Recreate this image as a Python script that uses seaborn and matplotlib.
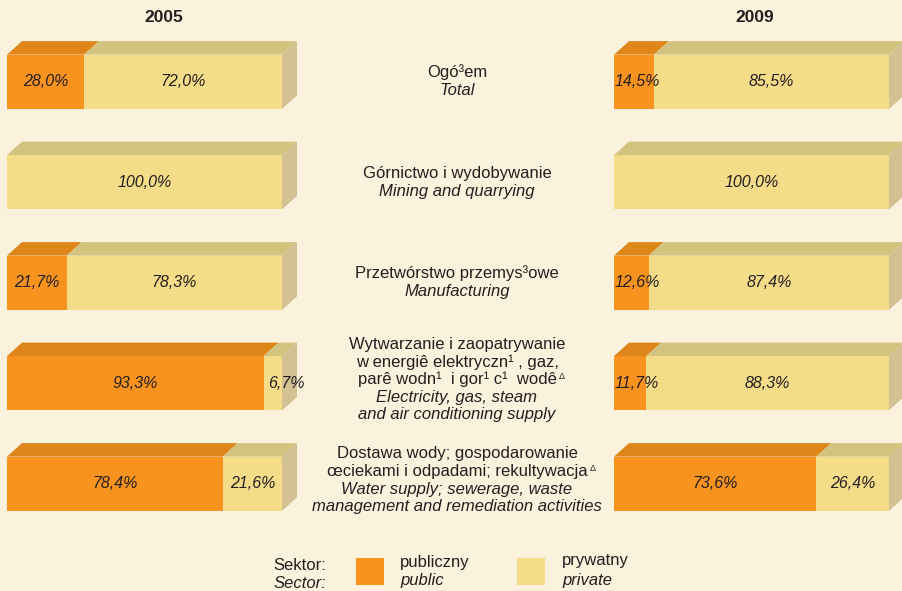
import numpy as np
import pandas as pd
import matplotlib
matplotlib.use('Agg')
import matplotlib.pyplot as plt
from matplotlib.patches import Polygon, Rectangle
from matplotlib import transforms
import seaborn as sns

# ---------------- data ----------------
categories = ['Ogółem', 'Górnictwo', 'Przetwórstwo', 'Energia', 'Woda']
years = ['2005', '2009']
public_2005 = [28.0, 0.0, 21.7, 93.3, 78.4]
private_2005 = [72.0, 100.0, 78.3, 6.7, 21.6]
public_2009 = [14.5, 0.0, 12.6, 11.7, 73.6]
private_2009 = [85.5, 100.0, 87.4, 88.3, 26.4]

labels_pl = [
    ['Ogó³em'],
    ['Górnictwo i wydobywanie'],
    ['Przetwórstwo przemys³owe'],
    ['Wytwarzanie i zaopatrywanie', 'w energiê elektryczn¹ , gaz,', 'parê wodn¹  i gor¹ c¹  wodê'],
    ['Dostawa wody; gospodarowanie', 'œciekami i odpadami; rekultywacja'],
]
labels_en = [
    ['Total'],
    ['Mining and quarrying'],
    ['Manufacturing'],
    ['Electricity, gas, steam', 'and air conditioning supply'],
    ['Water supply; sewerage, waste', 'management and remediation activities'],
]
triangle_rows = [3, 4]
legend_title = ['Sektor:', 'Sector:']
legend_public = ['publiczny', 'public']
legend_private = ['prywatny', 'private']

# ---------------- style ----------------
sns.set_theme(style='white')
plt.rcParams['font.family'] = ['Liberation Sans', 'DejaVu Sans']

BG = '#FBF2DD'
OR_FRONT = '#F7931E'
OR_TOP = '#DF861A'
YE_FRONT = '#F5DC88'
YE_TOP = '#D2C47F'
SIDE = '#D3C093'
TXT = '#231F20'

W, H = 903, 591
fig = plt.figure(figsize=(W / 100, H / 100), dpi=100, facecolor=BG)


def fig_rect(x_px, y_top_px, w_px, h_px):
    return [x_px / W, 1 - (y_top_px + h_px) / H, w_px / W, h_px / H]


AX_TOP, AX_H, AX_W = 31.5, 502.5, 275
DX_PX, DY_PX = 15, 13.5
panels = [(7, public_2005, private_2005, 164, years[0]),
          (614, public_2009, private_2009, 755, years[1])]

axes = []
for x0, pub, priv, title_x, yr in panels:
    ax = fig.add_axes(fig_rect(x0, AX_TOP, AX_W, AX_H))
    axes.append(ax)
    df = pd.DataFrame({'cat': categories, 'public': pub,
                       'total': np.array(pub) + np.array(priv)})
    sns.barplot(data=df, x='total', y='cat', orient='h', color=YE_FRONT,
                saturation=1, width=0.54, linewidth=0, ax=ax)
    sns.barplot(data=df, x='public', y='cat', orient='h', color=OR_FRONT,
                saturation=1, width=0.54, linewidth=0, ax=ax)
    ax.set_xlim(0, 100)
    ax.set_ylim(4.5, -0.5)
    ax.axis('off')

    dx = DX_PX / AX_W * 100
    dy = DY_PX / (AX_H / 5)
    n = len(categories)
    tot_patches = ax.patches[:n]
    pub_patches = ax.patches[n:2 * n]
    for tp, pp, vpub, vpriv in zip(tot_patches, pub_patches, pub, priv):
        ytop = tp.get_y()
        ybot = tp.get_y() + tp.get_height()
        xp = pp.get_width()
        xt = tp.get_width()
        segs = [(0, xp, OR_TOP), (xp, xt, YE_TOP)]
        for a, b, col in segs:
            if b - a <= 0:
                continue
            ax.add_patch(Polygon([(a, ytop), (b, ytop), (b + dx, ytop - dy), (a + dx, ytop - dy)],
                                 closed=True, facecolor=col, edgecolor='none', clip_on=False))
        ax.add_patch(Polygon([(xt, ytop), (xt, ybot), (xt + dx, ybot - dy), (xt + dx, ytop - dy)],
                             closed=True, facecolor=SIDE, edgecolor='none', clip_on=False))
        yc = (ytop + ybot) / 2
        # value labels
        if vpub > 0:
            xlab = vpub / 2 if vpub >= 16 else max(vpub / 2, 8.3)
            ax.text(xlab, yc, f'{vpub:.1f}'.replace('.', ',') + '%', ha='center', va='center',
                    style='italic', fontsize=11.5, color=TXT, clip_on=False)
        if vpriv > 0:
            txt = f'{vpriv:.1f}'.replace('.', ',') + '%'
            if vpriv >= 10:
                ax.text(vpub + vpriv / 2, yc, txt, ha='center', va='center',
                        style='italic', fontsize=11.5, color=TXT, clip_on=False)
            else:
                ax.text(vpub + 1.5, yc, txt, ha='left', va='center',
                        style='italic', fontsize=11.5, color=TXT, clip_on=False)
    fig.text(title_x / W, 1 - 17.5 / H, yr, ha='center', va='center',
             fontsize=12.5, fontweight='bold', color=TXT)

# ---------------- middle category labels ----------------
ax0 = axes[0]
blend = transforms.blended_transform_factory(fig.transFigure, ax0.transData)
LINE_PX = 17.6
MID_X = 457 / W
for i, (pl, en) in enumerate(zip(labels_pl, labels_en)):
    lines = [(t, 'normal') for t in pl] + [(t, 'italic') for t in en]
    nl = len(lines)
    shift = -1 if nl == 2 else -4.5
    for j, (t, st) in enumerate(lines):
        off_px = shift + (j - (nl - 1) / 2) * LINE_PX + 5.5
        tx = ax0.annotate(t, xy=(MID_X, i), xycoords=blend,
                          xytext=(0, -off_px * 72 / 100), textcoords='offset points',
                          ha='center', va='baseline', fontsize=12, style=st, color=TXT,
                          annotation_clip=False)
        if i in triangle_rows and j == len(pl) - 1:
            ax0.annotate('Δ', xy=(1, 1), xycoords=tx, xytext=(1.5, 0),
                         textcoords='offset points', ha='left', va='top',
                         fontsize=6.5, color=TXT, annotation_clip=False)

# ---------------- legend ----------------
def ftext(x, y, s, st='normal'):
    fig.text(x / W, 1 - y / H, s, ha='left', va='center', fontsize=12, style=st, color=TXT)

ftext(273, 565, legend_title[0])
ftext(274, 583, legend_title[1], 'italic')
fig.add_artist(Rectangle((356 / W, 1 - 585 / H), 28 / W, 27 / H, transform=fig.transFigure,
                         facecolor=OR_FRONT, edgecolor='none'))
ftext(400, 563, legend_public[0])
ftext(400, 581, legend_public[1], 'italic')
fig.add_artist(Rectangle((517 / W, 1 - 585 / H), 28 / W, 27 / H, transform=fig.transFigure,
                         facecolor=YE_FRONT, edgecolor='none'))
ftext(562, 561, legend_private[0])
ftext(562, 580, legend_private[1], 'italic')

fig.savefig('out.png', dpi=100, facecolor=BG)
